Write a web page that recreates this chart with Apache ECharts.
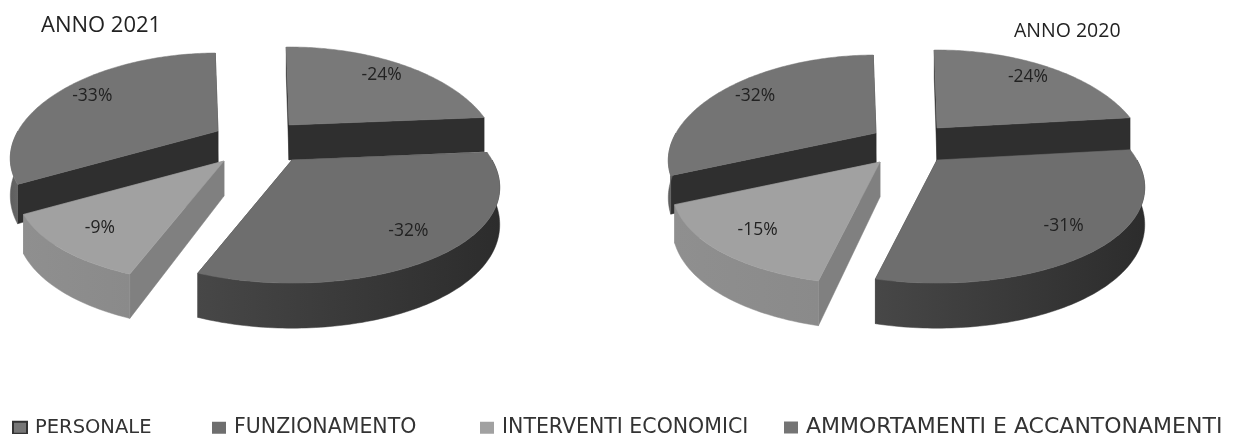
<!DOCTYPE html>
<html>
<head>
<meta charset="utf-8">
<style>html,body{margin:0;padding:0;background:#fff}#c{width:1233px;height:434px;filter:blur(0.45px)}</style>
<script src="https://cdn.jsdelivr.net/npm/echarts@6/dist/echarts.min.js"></script>
</head>
<body>
<div id="c"></div>
<script>
// ---- data ----
const categories = ['PERSONALE', 'FUNZIONAMENTO', 'INTERVENTI ECONOMICI', 'AMMORTAMENTI E ACCANTONAMENTI'];
const years = ['ANNO 2021', 'ANNO 2020'];
// printed labels
const labels2021 = [-24, -32, -9, -33];
const labels2020 = [-24, -31, -15, -32];
// slice sizes as drawn (the 2021 "-9%" slice is drawn as about 11%)
const shares2021 = [24, 32, 11, 33];
const shares2020 = [24, 31, 15, 32];
const allLabels = [labels2021, labels2020];
const allShares = [shares2021, shares2020];

// ---- layout and style (not data) ----
const centers = [[255, 145], [905, 147]];
const explode = [
  [[34, -20], [37, 15], [-31, 16], [-37, -14]],
  [[32, -19], [32, 13], [-25, 15], [-29, -14]]
];
const RX = 200, RY = 95.5, PERSP = 0.224, PERSPX = 0.27, DEPTH = 35, START = -1, LABEL_R = 0.8;
const topColor = ['#797979', '#6e6e6e', '#a1a1a1', '#747474'];
const radialColor = ['#2f2f2f', '#3a3a3a', '#808080', '#2f2f2f'];
const wallStops = [
  ['#3a3a3a', '#3a3a3a'],
  ['#474747', '#2c2c2c'],
  ['#8f8f8f', '#8a8a8a'],
  ['#5e5e5e', '#666666']
];
const drawOrder = [0, 3, 2, 1];
const legendLeft = [12, 212, 480, 784];
const legendSize = [19.5, 20.5, 20.5, 22];
const titleStyle = [{ left: 41, top: 15, size: 22 }, { left: 1014, top: 21, size: 19.5 }];

function proj(a, rho, c, off) {
  const r = a * Math.PI / 180;
  const u = Math.sin(r) * rho, v = -Math.cos(r) * rho;
  const s = 1 / (1 - PERSP * v), sx = 1 / (1 - PERSPX * v);
  return { x: c[0] + off[0] + RX * u * sx, y: c[1] + off[1] + RY * v * s, d: DEPTH * s };
}
function sliceAngles(shares, i) {
  const sum = shares.reduce((p, q) => p + q, 0);
  let a0 = START;
  for (let k = 0; k < i; k++) a0 += shares[k] / sum * 360;
  return [a0, a0 + shares[i] / sum * 360];
}
function renderSlice(cat) {
  return function (params, api) {
    const pie = api.value(0);
    const [a0, a1] = sliceAngles(allShares[pie], cat);
    const c = centers[pie], off = explode[pie][cat];
    const P = (a, rho) => proj(a, rho, c, off);
    const apex = P(a0, 0);
    const A = P(a0, 1), B = P(a1, 1);
    const children = [];
    const poly = (pts, fill) => children.push({
      type: 'polygon', shape: { points: pts }, style: { fill: fill, stroke: fill, lineWidth: 0.5 }
    });
    const rad = (p) => poly([[apex.x, apex.y], [p.x, p.y], [p.x, p.y + p.d], [apex.x, apex.y + apex.d]], radialColor[cat]);
    rad(A); rad(B);
    // outer wall: the part of the rim that faces the viewer
    const w0 = Math.max(a0, 90), w1 = Math.min(a1, 270);
    if (w1 > w0) {
      const up = [], dn = [];
      for (let a = w0; a <= w1; a += 1) { const p = P(a, 1); up.push([p.x, p.y]); dn.unshift([p.x, p.y + p.d]); }
      const e = P(w1, 1); up.push([e.x, e.y]); dn.unshift([e.x, e.y + e.d]);
      poly(up.concat(dn), {
        type: 'linear', x: 0, y: 0, x2: 1, y2: 0,
        colorStops: [{ offset: 0, color: wallStops[cat][0] }, { offset: 1, color: wallStops[cat][1] }]
      });
    }
    // top face
    const pts = [[apex.x, apex.y]];
    for (let a = a0; a < a1; a += 1) { const p = P(a, 1); pts.push([p.x, p.y]); }
    pts.push([B.x, B.y]);
    poly(pts, topColor[cat]);
    // label
    const m = P((a0 + a1) / 2, LABEL_R);
    children.push({
      type: 'text', z2: 10,
      style: {
        x: m.x, y: m.y, text: allLabels[pie][cat] + '%', fill: '#222', align: 'center', verticalAlign: 'middle',
        font: '17.5px "Open Sans", sans-serif'
      }
    });
    return { type: 'group', children: children };
  };
}

const chart = echarts.init(document.getElementById('c'), null, { renderer: 'canvas' });
chart.setOption({
  animation: false,
  backgroundColor: '#fff',
  title: years.map((t, i) => ({
    text: t, left: titleStyle[i].left, top: titleStyle[i].top, padding: 0,
    textStyle: { fontFamily: '"Open Sans", sans-serif', fontWeight: 'normal', fontSize: titleStyle[i].size, color: '#222' }
  })),
  legend: categories.map((n, i) => ({
    data: [n], left: legendLeft[i], top: 427.5 - legendSize[i] / 2, padding: 0, icon: 'rect',
    itemWidth: 14, itemHeight: 12, itemGap: 0, selectedMode: false,
    textStyle: { fontFamily: '"DejaVu Sans", sans-serif', fontSize: legendSize[i], color: '#333', padding: [0, 0, 0, 3] }
  })),
  series: drawOrder.map((cat, idx) => ({
    type: 'custom',
    name: categories[cat],
    coordinateSystem: 'none',
    z: 2 + idx,
    silent: true,
    itemStyle: cat === 0
      ? { color: '#777', borderColor: '#333', borderWidth: 1 }
      : { color: topColor[cat] },
    renderItem: renderSlice(cat),
    data: allShares.map((vals, p) => [p, vals[cat]])
  }))
});
</script>
</body>
</html>
